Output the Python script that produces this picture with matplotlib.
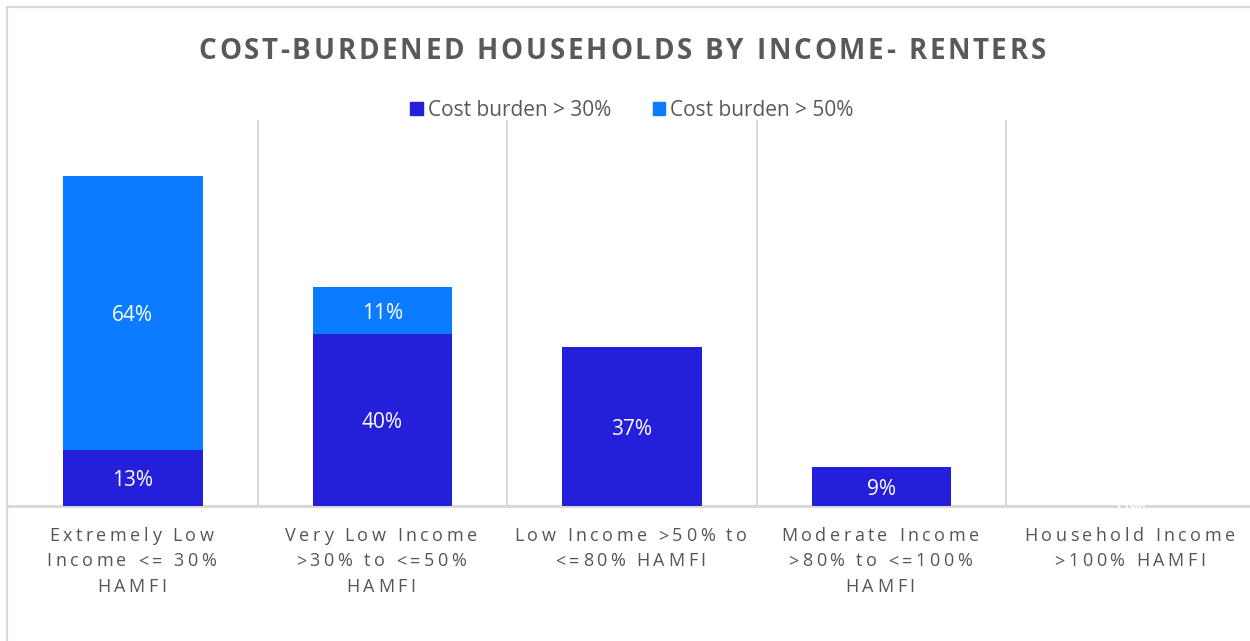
import matplotlib
matplotlib.use("Agg")
import matplotlib.pyplot as plt
from matplotlib.font_manager import FontProperties
from matplotlib.patches import Rectangle

# ---- data ----
categories = [
    "Extremely Low\nIncome <= 30%\nHAMFI",
    "Very Low Income\n>30% to <=50%\nHAMFI",
    "Low Income >50% to\n<=80% HAMFI",
    "Moderate Income\n>80% to <=100%\nHAMFI",
    "Household Income\n>100% HAMFI",
]
burden_30 = [13, 40, 37, 9, 0]
burden_50 = [64, 11, 0, 0, 0]
series_names = ["Cost burden > 30%", "Cost burden > 50%"]
title = "COST-BURDENED HOUSEHOLDS BY INCOME- RENTERS"

# ---- style ----
FONT = "Open Sans"
GRAY = "#595959"
GRID = "#d9d9d9"
C30 = "#231FDB"
C50 = "#0B7CFF"
W, H = 1250, 641

plt.rcParams["font.family"] = [FONT, "DejaVu Sans"]
fig = plt.figure(figsize=(W / 100, H / 100), dpi=100)
fig.patch.set_facecolor("white")

# figure border
fig.patches.append(Rectangle((6.5 / W, -0.1), 1.2, (H - 6.5) / H + 0.1,
                             transform=fig.transFigure, fill=False,
                             edgecolor=GRID, linewidth=1.6, zorder=0))

ax = fig.add_axes([8 / W, 1 - 506 / H, 1248 / W, (506 - 120) / H])
x = list(range(len(categories)))
b1 = ax.bar(x, burden_30, width=0.56, color=C30, zorder=2)
b2 = ax.bar(x, burden_50, width=0.56, bottom=burden_30, color=C50, zorder=2)

ax.set_xlim(-0.5, len(categories) - 0.5)
ax.set_ylim(0, 90)
for s in ax.spines.values():
    s.set_visible(False)
ax.set_xticks([])
ax.set_yticks([])
for k in range(1, len(categories)):
    ax.axvline(k - 0.5, color=GRID, linewidth=1.5, zorder=1)
ax.axhline(0, color=GRID, linewidth=2.2, zorder=1, clip_on=False)

lab30 = [f"{v}%" if (v > 0 or i == len(burden_30) - 1) else "" for i, v in enumerate(burden_30)]
lab50 = [f"{v}%" if v > 0 else "" for v in burden_50]
for t in ax.bar_label(b1, labels=lab30, label_type="center", color="white", fontsize=15, zorder=3):
    t.set_va("center_baseline")
for t in ax.bar_label(b2, labels=lab50, label_type="center", color="white", fontsize=15):
    t.set_va("center_baseline")

# legend
h = [Rectangle((0, 0), 1, 1, color=C30), Rectangle((0, 0), 1, 1, color=C50)]
fig.legend(h, series_names, loc="center", bbox_to_anchor=(632 / W, 1 - 110 / H),
           ncol=2, frameon=False, fontsize=15, labelcolor=GRAY,
           handlelength=0.6, handleheight=0.6, handletextpad=0.25,
           columnspacing=2.0, borderpad=0)

fig.canvas.draw()
renderer = fig.canvas.get_renderer()


def advances(s, fp):
    base = renderer.get_text_width_height_descent("xx", fp, ismath=False)[0]
    return [renderer.get_text_width_height_descent("x" + c + "x", fp, ismath=False)[0] - base
            for c in s]


def spaced(s, xc, ybase, size, spacing, weight="normal", color=GRAY):
    fp = FontProperties(family=FONT, size=size, weight=weight)
    adv = advances(s, fp)
    total = sum(adv) + spacing * (len(s) - 1)
    xp = xc - total / 2
    for c, a in zip(s, adv):
        if c != " ":
            fig.text(xp / W, 1 - ybase / H, c, fontproperties=fp, color=color,
                     ha="left", va="baseline")
        xp += a + spacing


spaced(title, 622, 59, 20, 2.75, weight="bold")

for i, cat in enumerate(categories):
    xc = ax.transData.transform((i, 0))[0] - 1.5
    for j, line in enumerate(cat.split("\n")):
        spaced(line, xc, 541 + 25.5 * j, 13, 3.5, color="#555555")

fig.savefig("out.png", dpi=100, facecolor="white")
